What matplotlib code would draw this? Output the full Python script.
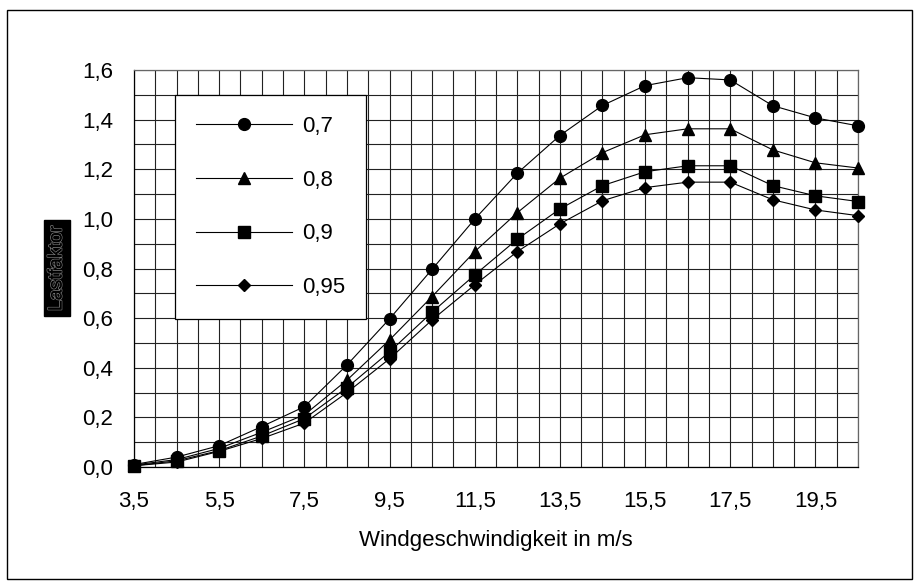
import matplotlib
matplotlib.use("Agg")
import matplotlib.pyplot as plt
from matplotlib.patches import Rectangle
import matplotlib.patheffects as pe
import numpy as np

# ---- data ----
wind_speed = [3.5, 4.5, 5.5, 6.5, 7.5, 8.5, 9.5, 10.5, 11.5, 12.5,
              13.5, 14.5, 15.5, 16.5, 17.5, 18.5, 19.5, 20.5]
series_labels = ["0,7", "0,8", "0,9", "0,95"]
load_07 = [0.01, 0.04, 0.086, 0.163, 0.243, 0.411, 0.597, 0.797, 0.999, 1.184,
           1.336, 1.457, 1.537, 1.569, 1.560, 1.456, 1.407, 1.375]
load_08 = [0.008, 0.03, 0.075, 0.14, 0.21, 0.35, 0.512, 0.687, 0.868, 1.025,
           1.164, 1.267, 1.339, 1.363, 1.363, 1.278, 1.226, 1.205]
load_09 = [0.005, 0.025, 0.066, 0.125, 0.195, 0.32, 0.464, 0.624, 0.774, 0.918,
           1.04, 1.134, 1.19, 1.214, 1.214, 1.134, 1.093, 1.07]
load_095 = [0.005, 0.02, 0.063, 0.115, 0.177, 0.30, 0.436, 0.593, 0.734, 0.868,
            0.98, 1.073, 1.126, 1.148, 1.148, 1.077, 1.036, 1.013]
x_tick_values = [3.5, 5.5, 7.5, 9.5, 11.5, 13.5, 15.5, 17.5, 19.5]
x_tick_labels = ["3,5", "5,5", "7,5", "9,5", "11,5", "13,5", "15,5", "17,5", "19,5"]
y_tick_values = [0.0, 0.2, 0.4, 0.6, 0.8, 1.0, 1.2, 1.4, 1.6]
y_tick_labels = ["0,0", "0,2", "0,4", "0,6", "0,8", "1,0", "1,2", "1,4", "1,6"]
x_label = "Windgeschwindigkeit in m/s"
y_label = "Lastfaktor"

plt.rcParams['font.family'] = ['Liberation Sans', 'DejaVu Sans']
FS = 16

fig = plt.figure(figsize=(9.2, 5.84), dpi=100)
W, H = 920, 584
ax = fig.add_axes([134 / W, (H - 467) / H, 724 / W, 397 / H])

ax.set_xlim(3.5, 20.5)
ax.set_ylim(0.0, 1.6)

# grid every 0.5 (x) and 0.1 (y)
for gx in np.arange(3.5, 20.51, 0.5):
    ax.axvline(gx, color='#222222', linewidth=0.8, zorder=1)
for gy in np.arange(0.0, 1.601, 0.1):
    ax.axhline(gy, color='#222222', linewidth=0.8, zorder=1)

markers = ['o', '^', 's', 'D']
sizes = [8.5, 8.5, 8, 6.5]
series = [load_07, load_08, load_09, load_095]
for vals, lab, m, ms in zip(series, series_labels, markers, sizes):
    ax.plot(wind_speed, vals, color='black', linewidth=0.8, marker=m,
            markersize=ms, markerfacecolor='black', markeredgecolor='black',
            label=lab, clip_on=False, zorder=3)

ax.set_xticks(x_tick_values)
ax.set_xticklabels(x_tick_labels)
ax.set_yticks(y_tick_values)
ax.set_yticklabels(y_tick_labels)
ax.tick_params(axis='both', which='both', length=0, labelsize=FS)
ax.tick_params(axis='x', pad=17)
ax.tick_params(axis='y', pad=15)
for s in ['top', 'right']:
    ax.spines[s].set_color('#666666')
for s in ['left', 'bottom']:
    ax.spines[s].set_color('black')
for s in ax.spines.values():
    s.set_linewidth(0.9)

ax.set_xlabel(x_label, fontsize=FS)
ax.xaxis.set_label_coords(0.5, (467 - 530) / 397)

leg = ax.legend(loc='upper left',
                bbox_to_anchor=((175 - 134) / 724, (467 - 95) / 397),
                borderaxespad=0, frameon=True, fancybox=False,
                fontsize=FS, handlelength=4.3, handletextpad=0.45,
                labelspacing=1.47, borderpad=0.95)
leg.get_frame().set_edgecolor('black')
leg.get_frame().set_linewidth(0.9)
leg.get_frame().set_alpha(1)
leg.set_zorder(5)

# y label: hollow-looking text on black box
fig.text(57 / W, (H - 268) / H, y_label, rotation=90, ha='center', va='center',
         fontsize=14, color='black',
         path_effects=[pe.withStroke(linewidth=1.2, foreground='#777777'),
                       pe.Normal()],
         bbox=dict(boxstyle='square,pad=0.25', facecolor='black', edgecolor='black'))

# outer frame
fig.patches.append(Rectangle((7.5 / W, (H - 579) / H), (912 - 7.5) / W, (579 - 10) / H,
                             transform=fig.transFigure, fill=False,
                             edgecolor='black', linewidth=1.0))

fig.savefig("out.png", dpi=100)
